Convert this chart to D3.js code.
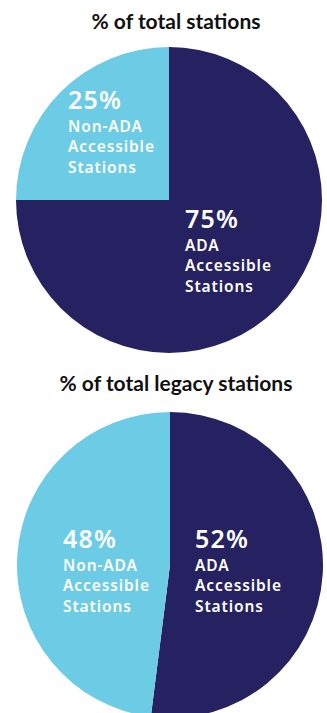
<!DOCTYPE html>
<html>
<head>
<meta charset="utf-8">
<script src="https://cdn.jsdelivr.net/npm/d3@7"></script>
<style>
  html, body { margin: 0; padding: 0; background: #ffffff; }
  svg { display: block; }
</style>
</head>
<body>
<svg id="chart" width="327" height="713"></svg>
<script>
// chart data
var titles = ["% of total stations", "% of total legacy stations"];
var categories = ["ADA Accessible Stations", "Non-ADA Accessible Stations"];
var labelLines = [["ADA", "Accessible", "Stations"], ["Non-ADA", "Accessible", "Stations"]];
var totalValues = [75, 25];
var legacyValues = [52, 48];

var colors = d3.scaleOrdinal().domain(categories).range(["#262262", "#6ccce6"]);

var svg = d3.select("#chart");
var radius = 153;

// layout for each pie: centre, title baseline, label anchors relative to centre
var layouts = [
  { values: totalValues, cx: 169, cy: 200, titleY: 29,
    labels: [{ dx: 16, dy: 28 }, { dx: -101, dy: -91 }] },
  { values: legacyValues, cx: 170, cy: 565, titleY: 391,
    labels: [{ dx: 25, dy: -17 }, { dx: -107, dy: -17 }] }
];

var pie = d3.pie().sort(null).value(function(d) { return d; });
var arc = d3.arc().innerRadius(0).outerRadius(radius);

layouts.forEach(function(layout, k) {
  // title
  svg.append("text")
    .attr("x", 176)
    .attr("y", layout.titleY)
    .attr("text-anchor", "middle")
    .attr("font-family", "Lato, 'Noto Sans', sans-serif")
    .attr("font-weight", 700)
    .attr("font-size", "21px")
    .attr("fill", "#111111")
    .text(titles[k]);

  var g = svg.append("g")
    .attr("transform", "translate(" + layout.cx + "," + layout.cy + ")");

  var slices = pie(layout.values);

  g.selectAll("path")
    .data(slices)
    .enter()
    .append("path")
    .attr("d", arc)
    .attr("fill", function(d, i) { return colors(categories[i]); });

  // labels: percent + three lines
  slices.forEach(function(d, i) {
    var pos = layout.labels[i];
    var t = g.append("text")
      .attr("x", pos.dx)
      .attr("y", pos.dy)
      .attr("fill", "#ffffff")
      .attr("font-family", "'Noto Sans', sans-serif")
      .attr("font-weight", 600);
    t.append("tspan")
      .attr("x", pos.dx)
      .attr("font-size", "25px")
      .attr("letter-spacing", "1.2px")
      .text(d.data + "%");
    labelLines[i].forEach(function(line, j) {
      t.append("tspan")
        .attr("x", pos.dx)
        .attr("dy", j === 0 ? 22.5 : 20.5)
        .attr("font-size", "15.5px")
        .attr("letter-spacing", "0.9px")
        .text(line);
    });
  });
});
</script>
</body>
</html>
